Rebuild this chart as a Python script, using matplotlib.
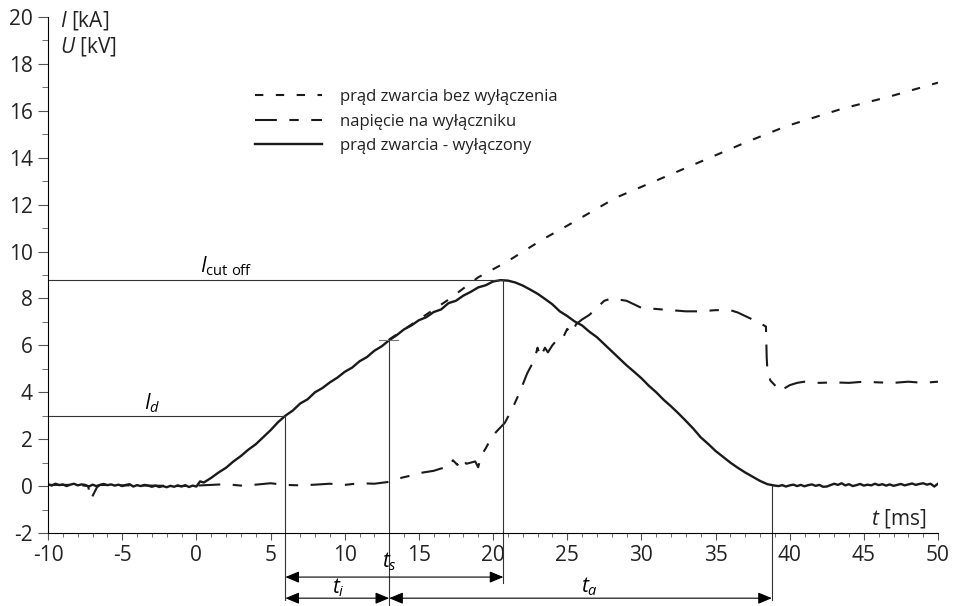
import matplotlib
matplotlib.use("Agg")
import matplotlib.pyplot as plt
from matplotlib.lines import Line2D
from matplotlib.ticker import MultipleLocator

# prąd zwarcia - wyłączony (solid trace), t [ms], I [kA]
t_cut = [-10, -9.75, -9.5, -9.25, -9, -8.75, -8.5, -8.25, -8, -7.75, -7.5, -7.25, -7, -6.75,
         -6.5, -6.25, -6, -5.75, -5.5, -5.25, -5, -4.75, -4.5, -4.25, -4, -3.75, -3.5, -3.25,
         -3, -2.75, -2.5, -2.25, -2, -1.75, -1.5, -1.25, -1, -0.75, -0.5, -0.25, 0,
         0.25, 0.5, 1, 1.5, 2, 2.5, 3, 3.5, 4, 4.5, 5, 5.5, 6, 6.5, 7, 7.5, 8, 8.5, 9, 9.5,
         10, 10.5, 11, 11.5, 12, 12.5, 13, 13.5, 14, 14.5, 15, 15.5, 16, 16.5, 17, 17.5, 18,
         18.5, 19, 19.5, 20, 20.5, 21, 21.5, 22, 22.5, 23, 23.5, 24, 24.5, 25, 25.5, 26, 26.5,
         27, 27.5, 28, 28.5, 29, 29.5, 30, 30.5, 31, 31.5, 32, 32.5, 33, 33.5, 34, 34.5, 35,
         35.5, 36, 36.5, 37, 37.5, 38, 38.5, 39,
         39.25, 39.5, 39.75, 40, 40.25, 40.5, 40.75, 41, 41.25, 41.5, 41.75, 42, 42.25, 42.5,
         42.75, 43, 43.25, 43.5, 43.75, 44, 44.25, 44.5, 44.75, 45, 45.25, 45.5, 45.75, 46,
         46.25, 46.5, 46.75, 47, 47.25, 47.5, 47.75, 48, 48.25, 48.5, 48.75, 49, 49.25, 49.5,
         49.75, 50]
i_cut = [0.08, 0.02, 0.10, 0.04, 0.07, 0.00, 0.06, 0.10, 0.03, 0.07, 0.05, -0.02, 0.06, 0.00,
         0.05, 0.09, 0.04, 0.07, 0.02, 0.06, 0.00, 0.05, 0.08, -0.02, 0.04, 0.00, 0.05, 0.02,
         -0.03, 0.02, -0.04, 0.00, -0.05, 0.01, -0.03, 0.03, -0.02, 0.04, -0.04, 0.02, -0.02,
         0.20, 0.15, 0.35, 0.58, 0.78, 1.05, 1.28, 1.55, 1.78, 2.08, 2.38, 2.72, 3.00, 3.22,
         3.52, 3.70, 4.00, 4.18, 4.42, 4.62, 4.87, 5.05, 5.32, 5.50, 5.77, 5.96, 6.22, 6.43,
         6.68, 6.85, 7.07, 7.20, 7.42, 7.53, 7.80, 7.90, 8.12, 8.28, 8.47, 8.56, 8.72, 8.78,
         8.76, 8.68, 8.55, 8.38, 8.20, 7.98, 7.75, 7.45, 7.25, 7.02, 6.85, 6.58, 6.35, 6.05,
         5.75, 5.45, 5.15, 4.88, 4.60, 4.28, 4.00, 3.68, 3.40, 3.10, 2.78, 2.45, 2.08, 1.80,
         1.50, 1.25, 1.00, 0.78, 0.58, 0.40, 0.22, 0.08, 0.02,
         0.00, 0.04, -0.02, 0.03, 0.06, 0.00, 0.05, -0.01, 0.04, 0.07, 0.01, 0.05, -0.03,
         -0.02, 0.04, 0.10, 0.05, 0.12, 0.03, 0.08, 0.00, 0.04, 0.09, 0.02, 0.06, 0.03, 0.10,
         0.04, 0.08, 0.02, 0.07, 0.01, 0.05, 0.09, 0.03, 0.07, 0.11, 0.05, 0.09, 0.12, 0.06,
         0.10, -0.02, 0.10]

# prąd zwarcia bez wyłączenia (prospective current)
t_pros = [13, 15, 17, 19, 20.9, 23.3, 25, 28.3, 32.4, 37.1, 39.8, 43.6, 46.7, 50]
i_pros = [6.25, 7.10, 7.95, 8.90, 9.55, 10.5, 11.1, 12.3, 13.4, 14.67, 15.35, 16.1, 16.6, 17.2]

# napięcie na wyłączniku, U [kV]
t_volt = [-10, -8, -7.3, -7.1, -6.9, -6.7, -6.5, -5, -3, -1, 0, 1, 2, 3, 4, 5, 6, 7, 8, 9,
          10, 11, 12, 13, 13.5, 14, 14.5, 15, 16, 16.5, 17, 17.3, 17.6, 17.9, 18.2, 18.8,
          19.0, 19.2, 19.5, 19.8, 20.2, 20.8, 21.3, 21.8, 22.3, 22.8, 23.0, 23.2, 23.5, 23.7,
          24.0, 24.4, 24.7, 25.0, 25.3, 25.6, 26.0, 26.5, 27.0, 27.5, 28.0, 28.5, 29, 29.5,
          30, 31, 32, 33, 34, 35, 36, 36.5, 37, 37.5, 38, 38.4, 38.45, 38.5, 38.7, 39.0, 39.3,
          39.6, 40, 40.5, 41, 42, 43, 44, 45, 46, 47, 48, 49, 50]
u_volt = [0.05, 0.05, 0.0, -0.55, -0.30, -0.05, 0.05, 0.03, 0.02, 0.0, 0.02, 0.05, 0.08,
          0.02, 0.06, 0.12, 0.05, 0.03, 0.06, 0.10, 0.05, 0.12, 0.10, 0.18, 0.30, 0.38, 0.45,
          0.55, 0.65, 0.75, 0.80, 1.10, 0.90, 1.20, 0.95, 1.05, 0.80, 1.30, 1.60, 1.95, 2.30,
          2.70, 3.30, 4.00, 4.80, 5.40, 5.90, 5.50, 5.90, 5.70, 6.00, 6.30, 6.30, 6.70, 6.50,
          6.90, 7.10, 7.30, 7.60, 7.90, 8.00, 7.95, 7.90, 7.75, 7.60, 7.55, 7.50, 7.45, 7.45,
          7.50, 7.50, 7.40, 7.25, 7.10, 6.95, 6.80, 5.50, 4.90, 4.50, 4.30, 4.05, 4.15, 4.30,
          4.40, 4.45, 4.40, 4.42, 4.40, 4.45, 4.42, 4.40, 4.45, 4.40, 4.45]

legend_labels = ["prąd zwarcia bez wyłączenia", "napięcie na wyłączniku",
                 "prąd zwarcia - wyłączony"]

# characteristic points
t_d, i_d = 6.0, 3.0
t_s, i_s = 13.0, 6.22
t_peak, i_peak = 20.7, 8.78
t_end = 38.8

plt.rcParams['font.family'] = ['Open Sans', 'DejaVu Sans']
plt.rcParams['axes.unicode_minus'] = False
plt.rcParams['mathtext.fontset'] = 'custom'
plt.rcParams['mathtext.rm'] = 'Open Sans'
plt.rcParams['mathtext.it'] = 'Open Sans:italic'

fig = plt.figure(figsize=(9.55, 6.06), dpi=100)
ax = fig.add_axes([0.0503, 0.1205, 0.9319, 0.8515])

dash_short = (0, (4.0, 6.0))
dash_long = (0, (10.5, 6.0, 4.5, 6.0))

ax.plot(t_volt, u_volt, color='#1a1a1a', lw=1.5, ls=dash_long)
ax.plot(t_pros, i_pros, color='#1a1a1a', lw=1.5, ls=dash_short)
ax.plot(t_cut, i_cut, color='#1a1a1a', lw=1.7)

ax.set_xlim(-10, 50)
ax.set_ylim(-2, 20)
ax.spines['top'].set_visible(False)
ax.spines['right'].set_visible(False)
ax.xaxis.set_major_locator(MultipleLocator(5))
ax.xaxis.set_minor_locator(MultipleLocator(1))
ax.yaxis.set_major_locator(MultipleLocator(2))
ax.yaxis.set_minor_locator(MultipleLocator(1))
ax.tick_params(axis='both', which='both', direction='out', color='#555555',
               labelsize=15, labelcolor='#222222')
ax.tick_params(axis='x', which='major', length=5, pad=4)
ax.tick_params(axis='x', which='minor', length=3)
ax.tick_params(axis='y', which='major', length=7, pad=4)
ax.tick_params(axis='y', which='minor', length=4)

# axis titles
ax.text(-9.2, 19.87, r"$\mathit{I}$ [kA]", fontsize=15, va='center', ha='left', color='#222222')
ax.text(-9.2, 18.76, r"$\mathit{U}$ [kV]", fontsize=15, va='center', ha='left', color='#222222')
ax.text(49.2, -1.4, r"$\mathit{t}$ [ms]", fontsize=15, va='center', ha='right', color='#222222')

# guide lines
lc = '#333333'
ax.plot([-10, t_peak], [i_peak, i_peak], color=lc, lw=0.8)
ax.plot([-10, t_d], [i_d, i_d], color=lc, lw=0.8)
ax.plot([12.3, 13.6], [i_s, i_s], color='#777777', lw=0.8)
ax.plot([t_d, t_d], [i_d, -4.86], color=lc, lw=0.8, clip_on=False)
ax.plot([t_s, t_s], [i_s, -5.12], color=lc, lw=0.8, clip_on=False)
ax.plot([t_peak, t_peak], [i_peak, -4.14], color=lc, lw=0.8, clip_on=False)
ax.plot([t_end, t_end], [0, -4.86], color=lc, lw=0.8, clip_on=False)

ax.text(2.0, 8.86, r"$\mathit{I}_{\mathrm{cut\ off}}$", fontsize=15, ha='center', va='bottom')
ax.text(-3.0, 3.05, r"$\mathit{I}_{\mathit{d}}$", fontsize=15, ha='center', va='bottom')

# time intervals
astyle = dict(arrowstyle='<|-|>,head_length=0.6,head_width=0.25', color='k', lw=0.8,
              shrinkA=0, shrinkB=0, mutation_scale=14)
for x0, x1, y in [(t_d, t_peak, -3.88), (t_d, t_s, -4.78), (t_s, t_end, -4.78)]:
    ax.annotate('', xy=(x1, y), xytext=(x0, y), arrowprops=astyle, annotation_clip=False)
ax.text(t_s, -3.24, r"$\mathit{t}_{\mathit{s}}$", fontsize=15, ha='center', va='center')
ax.text(9.6, -4.35, r"$\mathit{t}_{\mathit{i}}$", fontsize=15, ha='center', va='center')
ax.text(26.5, -4.3, r"$\mathit{t}_{\mathit{a}}$", fontsize=15, ha='center', va='center')

handles = [Line2D([], [], color='#1a1a1a', lw=1.5, ls=dash_short),
           Line2D([], [], color='#1a1a1a', lw=1.5, ls=dash_long),
           Line2D([], [], color='#1a1a1a', lw=1.7)]
ax.legend(handles, legend_labels, loc='upper left', bbox_to_anchor=(0.233, 0.86),
          frameon=False, fontsize=12, handlelength=4.0, handletextpad=1.1,
          labelspacing=0.5, borderpad=0, borderaxespad=0, labelcolor='#222222')

fig.savefig('out.png', dpi=100)
